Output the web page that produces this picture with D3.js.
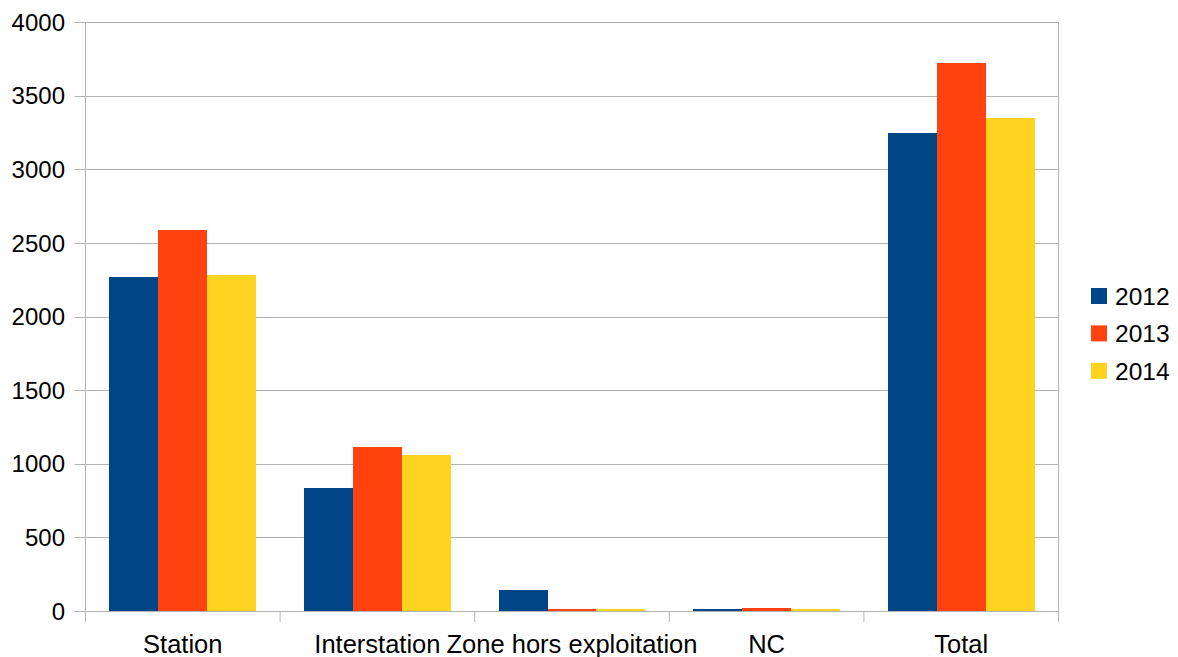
<!DOCTYPE html>
<html>
<head>
<meta charset="utf-8">
<script src="https://cdn.jsdelivr.net/npm/d3@7"></script>
<style>
  html, body { margin: 0; padding: 0; background: #fff; }
  svg { display: block; }
  text { font-family: "Liberation Sans", Arial, sans-serif; fill: #000; }
</style>
</head>
<body>
<svg id="chart" width="1178" height="657"></svg>
<script>
// Categories and yearly series
const categories = ["Station", "Interstation", "Zone hors exploitation", "NC", "Total"];
const years = ["2012", "2013", "2014"];
const values2012 = [2265, 835, 142, 2, 3244];
const values2013 = [2585, 1115, 5, 18, 3723];
const values2014 = [2280, 1060, 3, 3, 3346];
const yTicks = [0, 500, 1000, 1500, 2000, 2500, 3000, 3500, 4000];
const colors = ["#004586", "#ff420e", "#ffd320"];

const series = [values2012, values2013, values2014];

const svg = d3.select("#chart");
const margin = { left: 85.5, right: 1058.5, top: 22, bottom: 611 };

const x = d3.scaleBand()
  .domain(categories)
  .range([margin.left, margin.right])
  .paddingInner(0)
  .paddingOuter(0);

const inner = d3.scaleBand()
  .domain(years)
  .range([0, x.bandwidth()])
  .paddingOuter(0.486)
  .paddingInner(0);

const y = d3.scaleLinear().domain([0, 4000]).range([margin.bottom, margin.top]);

// Horizontal grid lines
svg.append("g")
  .selectAll("line")
  .data(yTicks)
  .join("line")
  .attr("x1", margin.left - 11)
  .attr("x2", margin.right)
  .attr("y1", d => Math.round(y(d)) + 0.5)
  .attr("y2", d => Math.round(y(d)) + 0.5)
  .attr("stroke", "#b3b3b3")
  .attr("stroke-width", 1);

// Y tick labels
svg.append("g")
  .selectAll("text")
  .data(yTicks)
  .join("text")
  .attr("x", 65)
  .attr("y", d => y(d))
  .attr("dy", "0.36em")
  .attr("text-anchor", "end")
  .attr("font-size", 24)
  .text(d => d);

// Left and right frame lines
svg.append("line")
  .attr("x1", margin.left).attr("x2", margin.left)
  .attr("y1", margin.top).attr("y2", margin.bottom + 11)
  .attr("stroke", "#b3b3b3");
svg.append("line")
  .attr("x1", margin.right).attr("x2", margin.right)
  .attr("y1", margin.top).attr("y2", margin.bottom)
  .attr("stroke", "#b3b3b3");

// Bars
const groups = svg.append("g")
  .selectAll("g")
  .data(categories)
  .join("g")
  .attr("transform", d => `translate(${x(d)},0)`);

groups.selectAll("rect")
  .data((c, i) => years.map((yr, k) => ({ yr, k, v: series[k][i] })))
  .join("rect")
  .attr("x", d => inner(d.yr))
  .attr("width", inner.bandwidth())
  .attr("y", d => Math.min(y(d.v), y(0) - 2))
  .attr("height", d => Math.max(2, y(0) - y(d.v)))
  .attr("shape-rendering", "crispEdges")
  .attr("fill", d => colors[d.k]);

// Baseline and category ticks
svg.append("line")
  .attr("x1", margin.left - 11).attr("x2", margin.right)
  .attr("y1", margin.bottom + 0.5).attr("y2", margin.bottom + 0.5)
  .attr("stroke", "#b3b3b3");

const boundaries = categories.map(c => x(c)).concat([margin.right]);
svg.append("g")
  .selectAll("line")
  .data(boundaries)
  .join("line")
  .attr("x1", d => d).attr("x2", d => d)
  .attr("y1", margin.bottom).attr("y2", margin.bottom + 11)
  .attr("stroke", "#b3b3b3");

// Category labels
svg.append("g")
  .selectAll("text")
  .data(categories)
  .join("text")
  .attr("x", d => x(d) + x.bandwidth() / 2)
  .attr("y", 653)
  .attr("text-anchor", "middle")
  .attr("font-size", 25.5)
  .text(d => d);

// Legend
const legend = svg.append("g")
  .selectAll("g")
  .data(years)
  .join("g")
  .attr("transform", (d, i) => `translate(1091,${296 + i * 37.4})`);

legend.append("rect")
  .attr("x", 0).attr("y", -8)
  .attr("width", 16).attr("height", 16)
  .attr("fill", (d, i) => colors[i]);

legend.append("text")
  .attr("x", 24)
  .attr("y", 0)
  .attr("dy", "0.36em")
  .attr("font-size", 24.5)
  .text(d => d);
</script>
</body>
</html>
